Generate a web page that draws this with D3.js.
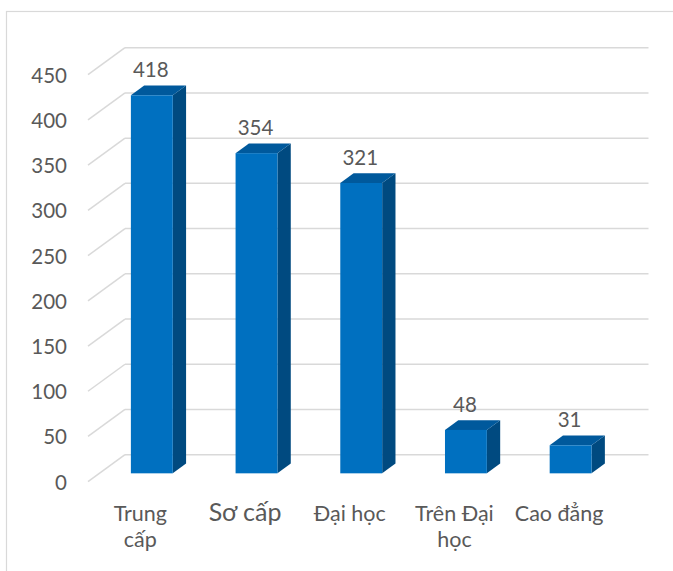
<!DOCTYPE html>
<html>
<head>
<meta charset="utf-8">
<script src="https://cdn.jsdelivr.net/npm/d3@7"></script>
<style>
  html, body { margin: 0; padding: 0; background: #fff; }
  svg { display: block; }
  text { font-family: Lato, "Open Sans", sans-serif; fill: #595959; }
</style>
</head>
<body>
<svg id="chart" width="673" height="571"></svg>
<script>
const categories = ['Trung cấp', 'Sơ cấp', 'Đại học', 'Trên Đại học', 'Cao đẳng'];
const catLines = [['Trung', 'cấp'], ['Sơ cấp'], ['Đại học'], ['Trên Đại', 'học'], ['Cao đẳng']];
const values = [418, 354, 321, 48, 31];
const yTicks = [0, 50, 100, 150, 200, 250, 300, 350, 400, 450];

const svg = d3.select('#chart');

// chart frame
svg.append('rect').attr('x', 6.5).attr('y', 11.5).attr('width', 700).attr('height', 600)
  .attr('fill', 'none').attr('stroke', '#d9d9d9').attr('stroke-width', 1.2);

// 3d geometry: front floor edge, depth vector, bar depth slice
const floorY = 481.7;
const depth = { dx: 37, dy: -27 };
const t1 = 0.31, t2 = 0.67;

const x = d3.scaleBand().domain(categories).range([88, 611.5]);
const h = d3.scaleLinear().domain([0, 450]).range([0, 407]);

// gridlines: diagonal on side wall + horizontal on back wall
const grid = svg.append('g');
yTicks.forEach(v => {
  const y0 = floorY - h(v);
  grid.append('line')
    .attr('x1', x.range()[0]).attr('y1', y0)
    .attr('x2', x.range()[0] + depth.dx).attr('y2', y0 + depth.dy)
    .attr('stroke', '#d9d9d9').attr('stroke-width', 1.5);
  grid.append('line')
    .attr('x1', x.range()[0] + depth.dx).attr('y1', y0 + depth.dy)
    .attr('x2', x.range()[1] + depth.dx).attr('y2', y0 + depth.dy)
    .attr('stroke', '#d9d9d9').attr('stroke-width', 1.5);
});

// y tick labels
svg.append('g').selectAll('text').data(yTicks).enter().append('text')
  .attr('x', 67).attr('y', d => floorY - h(d))
  .attr('text-anchor', 'end').attr('dominant-baseline', 'central')
  .attr('font-size', '20.5px')
  .text(d => d);

// bars
const barW = x.bandwidth() * 0.4;
const sx = (t2 - t1) * depth.dx, sy = (t2 - t1) * depth.dy;
const bars = svg.append('g').selectAll('g').data(values).enter().append('g');

function geom(d, i) {
  const cx = x(categories[i]) + x.bandwidth() / 2 + t1 * depth.dx;
  const yb = floorY + t1 * depth.dy;
  return { x1: cx - barW / 2, x2: cx + barW / 2, yb, yt: yb - h(d), cx };
}

bars.append('path').attr('fill', '#004a80').attr('d', (d, i) => {
  const g = geom(d, i);
  return `M${g.x2},${g.yt} L${g.x2 + sx},${g.yt + sy} L${g.x2 + sx},${g.yb + sy} L${g.x2},${g.yb} Z`;
});
bars.append('path').attr('fill', '#00599c').attr('d', (d, i) => {
  const g = geom(d, i);
  return `M${g.x1},${g.yt} L${g.x2},${g.yt} L${g.x2 + sx},${g.yt + sy} L${g.x1 + sx},${g.yt + sy} Z`;
});
bars.append('rect').attr('fill', '#0070c0')
  .attr('x', (d, i) => geom(d, i).x1).attr('y', (d, i) => geom(d, i).yt)
  .attr('width', barW).attr('height', d => h(d));

// data labels
bars.append('text')
  .attr('x', (d, i) => geom(d, i).cx - 1)
  .attr('y', (d, i) => geom(d, i).yt - 18)
  .attr('text-anchor', 'middle').attr('font-size', '20.5px')
  .text(d => d);

// category labels
const cat = svg.append('g').selectAll('text').data(catLines).enter().append('text')
  .attr('text-anchor', 'middle')
  .attr('font-size', (d, i) => categories[i] === 'Sơ cấp' ? '25px' : '21.5px')
  .attr('transform', (d, i) => `translate(${x(categories[i]) + x.bandwidth() / 2},520.5)`);
cat.selectAll('tspan').data(d => d).enter().append('tspan')
  .attr('x', 0).attr('dy', (d, j) => j === 0 ? 0 : 26.5)
  .text(d => d);
</script>
</body>
</html>
